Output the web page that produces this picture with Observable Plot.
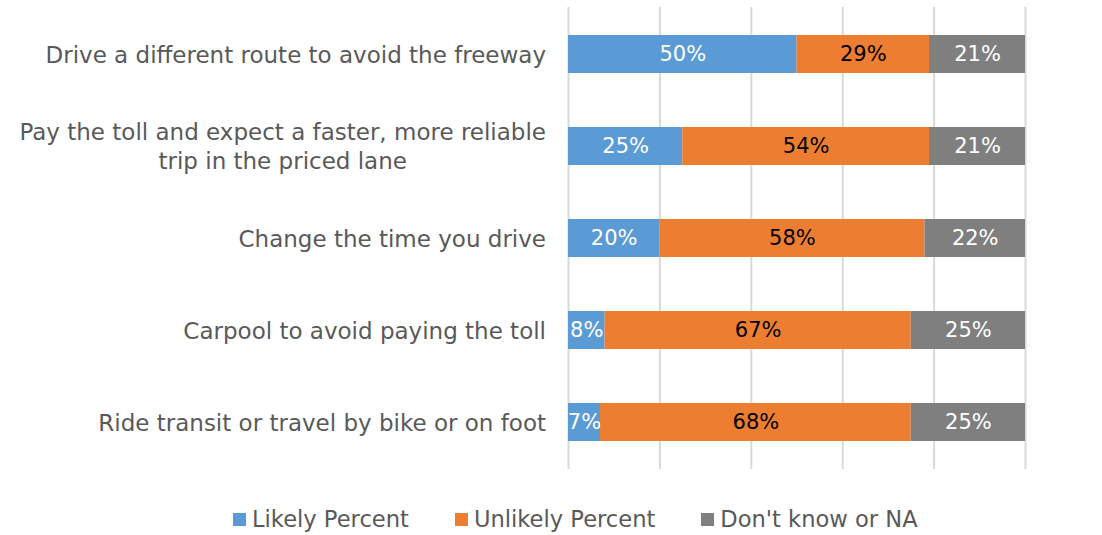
<!DOCTYPE html>
<html><head><meta charset="utf-8">
<script src="https://cdn.jsdelivr.net/npm/d3@7"></script>
<script src="https://cdn.jsdelivr.net/npm/@observablehq/plot@0.6"></script>
<style>
body{margin:0;background:#fff;font-family:"DejaVu Sans",sans-serif;}
#legend{display:flex;justify-content:flex-start;align-items:center;margin-left:233px;margin-top:26px;font-size:22.6px;color:#595959;}
.item{display:flex;align-items:center;margin-right:46px;}
.sw{width:13px;height:13px;margin-right:6px;}
</style></head><body>
<div id="chart"></div>
<div id="legend"></div>
<script>
const categories = [
  "Drive a different route to avoid the freeway",
  "Pay the toll and expect a faster, more reliable\ntrip in the priced lane",
  "Change the time you drive",
  "Carpool to avoid paying the toll",
  "Ride transit or travel by bike or on foot"
];
const seriesNames = ["Likely Percent", "Unlikely Percent", "Don't know or NA"];
const likely = [50, 25, 20, 8, 7];
const unlikely = [29, 54, 58, 67, 68];
const dontKnow = [21, 21, 22, 25, 25];
const gridTicks = [0, 20, 40, 60, 80, 100];
const colors = ["#5B9BD5", "#ED7D31", "#7F7F7F"];
const labelColors = ["#ffffff", "#000000", "#ffffff"];

const seriesVals = [likely, unlikely, dontKnow];
const data = [];
seriesNames.forEach((s, si) => categories.forEach((c, ci) => data.push({cat: c, series: s, value: seriesVals[si][ci], lc: labelColors[si]})));

const font = "DejaVu Sans";
const plot = Plot.plot({
  width: 1102, height: 480,
  marginLeft: 568, marginRight: 77, marginTop: 7, marginBottom: 11,
  style: {fontFamily: font, background: "#fff"},
  x: {domain: [0, 100], axis: null},
  y: {domain: categories, axis: null, padding: 0},
  color: {domain: seriesNames, range: colors},
  marks: [
    Plot.ruleX(gridTicks, {stroke: "#D9D9D9", strokeWidth: 2}),
    Plot.barX(data, Plot.stackX({x: "value", y: "cat", fill: "series", order: seriesNames, insetTop: 27, insetBottom: 27})),
    Plot.text(data, Plot.stackX({x: "value", y: "cat", z: "series", order: seriesNames, text: d => d.value + "%", fill: "lc", fontSize: 21})),
    Plot.text(categories, {y: d => d, text: d => d, frameAnchor: "left", textAnchor: "middle", fill: "#595959", fontSize: 23, lineHeight: 1.25, className: "ylab"})
  ]
});
document.getElementById("chart").appendChild(plot);
// right-align each label block at the axis, lines centered within block
const svgRect = plot.getBoundingClientRect();
plot.querySelectorAll("g.ylab text").forEach(t => {
  const r = t.getBoundingClientRect();
  const right = r.right - svgRect.left;
  const delta = (568 - 22) - right;
  t.setAttribute("transform", `translate(${delta},-1) ` + (t.getAttribute("transform") || ""));
});
const lg = document.getElementById("legend");
seriesNames.forEach((s, i) => {
  const it = document.createElement("div"); it.className = "item";
  const sw = document.createElement("div"); sw.className = "sw"; sw.style.background = colors[i];
  const tx = document.createElement("span"); tx.textContent = s;
  it.appendChild(sw); it.appendChild(tx); lg.appendChild(it);
});
</script>
</body></html>
